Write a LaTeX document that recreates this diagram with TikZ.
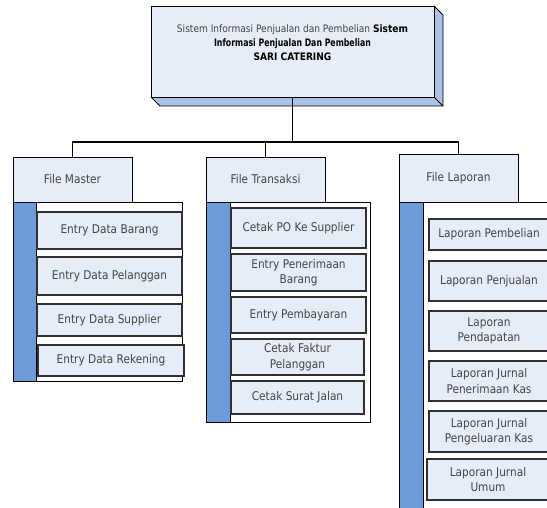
\documentclass[tikz,border=0pt]{standalone}
\usepackage{fontspec}
\setmainfont{DejaVu Sans}[FakeStretch=0.88]
\definecolor{boxfill}{HTML}{E7EDF8}
\definecolor{depthfill}{HTML}{ABC1E5}
\definecolor{barfill}{HTML}{6D9BDA}
\definecolor{textgrey}{HTML}{444444}
\definecolor{itemline}{HTML}{303030}
\begin{document}
\begin{tikzpicture}[x=1pt,y=-1pt,
  every node/.style={inner sep=0pt,outer sep=0pt},
  header/.style={draw=black,line width=0.9pt,fill=boxfill,text=textgrey,
    font=\fontsize{12}{15}\selectfont},
  item/.style={draw=itemline,line width=1.1pt,fill=boxfill,text=textgrey,align=center,
    font=\fontsize{12}{15.5}\selectfont},
  frame/.style={draw=black,line width=0.9pt,fill=white},
  bar/.style={draw=black,line width=0.9pt,fill=barfill},
  link/.style={draw=black,line width=1.1pt}]
\useasboundingbox (0,0) rectangle (547,508);
\clip (0,0) rectangle (547,508);

% top box with bevelled depth
\filldraw[fill=depthfill,draw=black,line width=0.9pt,line join=round]
  (151,97) -- (160,106) -- (443,106) -- (443,15) -- (434,6) -- (434,97) -- cycle;
\draw[black,line width=0.9pt] (434,97) -- (443,106);
\node[draw=black,line width=0.9pt,fill=boxfill,minimum width=283pt,minimum height=91pt]
  (top) at (292.5,51.5) {};
\node[align=center,font=\fontsize{10.3}{14}\selectfont] (toptext) at (292.5,43)
  {{\color{textgrey}Sistem Informasi Penjualan dan Pembelian} \textbf{Sistem}\\
   \scalebox{0.86}[1]{\textbf{Informasi Penjualan Dan Pembelian}}\\
   \textbf{SARI CATERING}};

% column frames and side bars
\path[frame] (36,202) rectangle (182,381);
\path[bar] (13,202) rectangle (36,381);
\path[frame] (230,202) rectangle (370,422);
\path[bar] (206,202) rectangle (230,422);
\path[frame] (423,202) rectangle (560,520);
\path[bar] (399,202) rectangle (423,520);

% headers
\node[header,minimum width=119pt,minimum height=45pt] (master) at (72.5,179.5) {File Master};
\node[header,minimum width=119pt,minimum height=45pt] (transaksi) at (265.5,179.5) {File Transaksi};
\node[header,minimum width=119pt,minimum height=48pt] (laporan) at (458.5,178) {File Laporan};

% File Master items
\node[item,minimum width=145pt,minimum height=37pt] (m1) at (109.5,230.5) {Entry Data Barang};
\node[item,minimum width=145pt,minimum height=38pt] (m2) at (109.5,276) {Entry Data Pelanggan};
\node[item,minimum width=145pt,minimum height=32pt] (m3) at (109.5,320) {Entry Data Supplier};
\node[item,minimum width=146pt,minimum height=31pt] (m4) at (111,360.5) {Entry Data Rekening};

% File Transaksi items
\node[item,minimum width=135pt,minimum height=40pt] (t1) at (298.5,228) {Cetak PO Ke Supplier};
\node[item,minimum width=135pt,minimum height=37pt] (t2) at (298.5,272.5) {Entry Penerimaan\\Barang};
\node[item,minimum width=135pt,minimum height=36pt] (t3) at (298.5,315) {Entry Pembayaran};
\node[item,minimum width=133pt,minimum height=36pt] (t4) at (297.5,357) {Cetak Faktur\\Pelanggan};
\node[item,minimum width=133pt,minimum height=33pt] (t5) at (297.5,397.5) {Cetak Surat Jalan};

% File Laporan items
\node[item,minimum width=120pt,minimum height=31pt] (l1) at (489,234.5) {Laporan Pembelian};
\node[item,minimum width=120pt,minimum height=40pt] (l2) at (489,281) {Laporan Penjualan};
\node[item,minimum width=120pt,minimum height=40pt] (l3) at (489,331) {Laporan\\Pendapatan};
\node[item,minimum width=120pt,minimum height=40pt] (l4) at (489,381) {Laporan Jurnal\\Penerimaan Kas};
\node[item,minimum width=120pt,minimum height=41pt] (l5) at (489,431.5) {Laporan Jurnal\\Pengeluaran Kas};
\node[item,minimum width=122pt,minimum height=41pt] (l6) at (488,479.5) {Laporan Jurnal\\Umum};

% connectors
\coordinate (bus) at (292.5,142);
\draw[link] (top.south) -- (bus);
\draw[link] (master.north) |- (bus) -| (laporan.north);
\draw[link] (transaksi.north) -- (transaksi.north |- bus);
\end{tikzpicture}
\end{document}
